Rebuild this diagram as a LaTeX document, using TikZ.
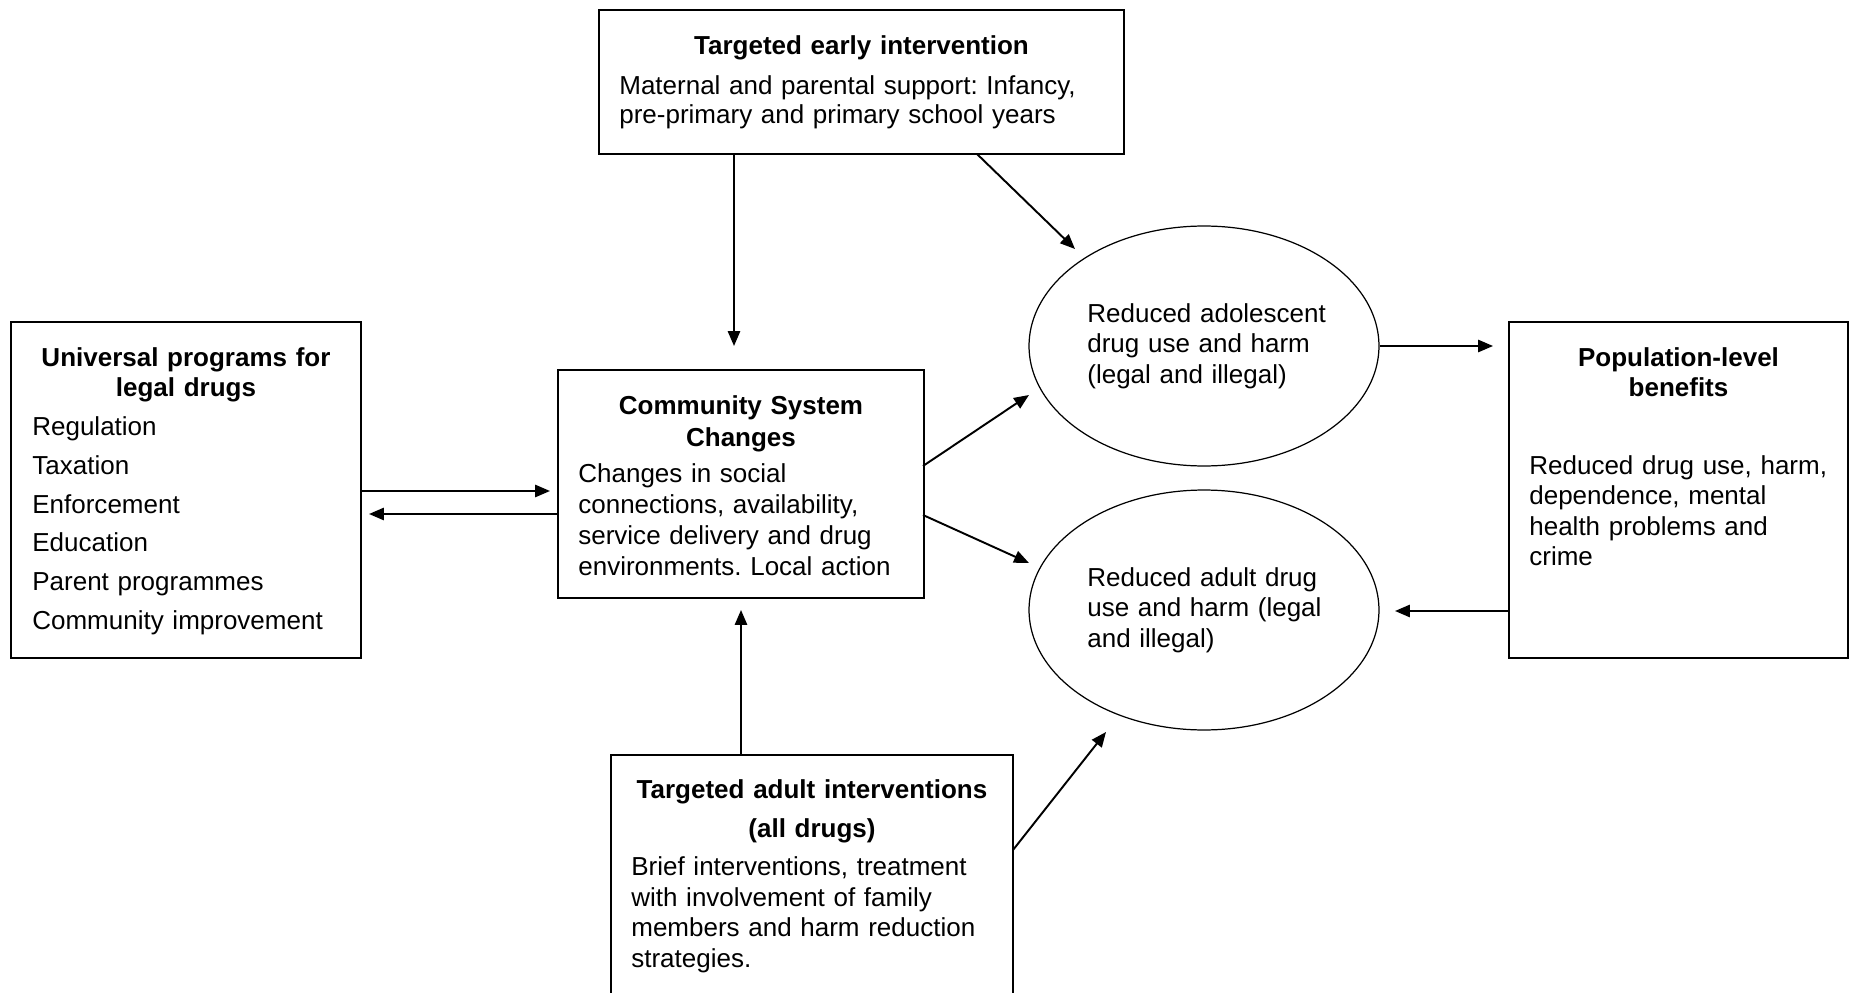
\documentclass[tikz,border=0pt]{standalone}
\usepackage{fontspec}
\setmainfont{Liberation Sans}
\frenchspacing
\usetikzlibrary{arrows.meta,shapes.geometric}
\begin{document}
\begin{tikzpicture}[x=0.02cm,y=-0.02cm,
  box/.style={draw,line width=1.1pt,inner sep=0,rectangle},
  oval/.style={draw,line width=0.7pt,ellipse,inner sep=0,minimum width=7cm,minimum height=4.8cm},
  arr/.style={line width=1.1pt,-{Triangle[length=8.5pt,width=7pt]}},
  body/.style={inner sep=0,anchor=base west,align=left,text width=14cm,font=\fontsize{14.8}{#1}\selectfont\frenchspacing},
  body/.default=17.4pt,
  ttl/.style={inner sep=0,anchor=base,align=center,text width=14cm,font=\fontsize{14.8}{#1}\selectfont\bfseries},
  ttl/.default=17.6pt]
\useasboundingbox (0,0) rectangle (1850,993);
\clip (0,0) rectangle (1850,993);
% boxes
\node[box,minimum width=10.5cm,minimum height=2.88cm] (early) at (861.5,82) {};
\node[box,minimum width=7cm,minimum height=6.72cm] (univ) at (186,490) {};
\node[box,minimum width=7.32cm,minimum height=4.56cm] (comm) at (741,484) {};
\node[box,minimum width=6.78cm,minimum height=6.72cm] (pop) at (1678.5,490) {};
\node[box,minimum width=8.04cm,minimum height=5cm] (adult) at (812,880) {};
\node[oval] (ado) at (1204,346) {};
\node[oval] (adu) at (1204,610) {};
% texts
\node[ttl] (earlyT) at (861.5,55) {Targeted early intervention};
\node[body=16.7pt] (earlyB) at (619,94.5) {Maternal and parental support: Infancy,\\pre-primary and primary school years};
\node[ttl] (univT) at (186,366) {Universal programs for\\legal drugs};
\node[body=22.1pt] (univB) at (32,435.5) {Regulation\\Taxation\\Enforcement\\Education\\Parent programmes\\Community improvement};
\node[ttl=18.1pt] (commT) at (741,414.5) {Community System\\Changes};
\node[body=17.6pt] (commB) at (578,482.5) {Changes in social\\connections, availability,\\service delivery and drug\\environments. Local action};
\node[ttl] (popT) at (1678.5,366) {Population-level\\benefits};
\node[body] (popB) at (1529,474) {Reduced drug use, harm,\\dependence, mental\\health problems and\\crime};
\node[ttl=22.1pt] (adultT) at (812,798.5) {Targeted adult interventions\\(all drugs)};
\node[body] (adultB) at (631,875.5) {Brief interventions, treatment\\with involvement of family\\members and harm reduction\\strategies.};
\node[body=17.3pt] (adoT) at (1087,322.5) {Reduced adolescent\\drug use and harm\\(legal and illegal)};
\node[body=17.3pt] (aduT) at (1087,586.5) {Reduced adult drug\\use and harm (legal\\and illegal)};
% connector end points
\coordinate (c1) at (734,346);
\coordinate (c2s) at (977,154);
\coordinate (c2) at (1075,249);
\coordinate (c3) at (1029,395);
\coordinate (c3s) at (923,466);
\coordinate (c4) at (1029,563);
\coordinate (c4s) at (923,515);
\coordinate (c5) at (741,610);
\coordinate (c6s) at (1013,850);
\coordinate (c6) at (1106,732);
\coordinate (c7) at (550,491);
\coordinate (c8) at (369,514);
\coordinate (c9) at (1493,346);
\coordinate (c10) at (1395,611);
% connectors
\draw[arr] (early.south -| c1) -- (c1);
\draw[arr] (c2s) -- (c2);
\draw[arr] (univ.east |- c7) -- (c7);
\draw[arr] (comm.west |- c8) -- (c8);
\draw[arr] (c3s) -- (c3);
\draw[arr] (c4s) -- (c4);
\draw[arr] (ado.east) -- (c9);
\draw[arr] (pop.west |- c10) -- (c10);
\draw[arr] (adult.north -| c5) -- (c5);
\draw[arr] (c6s) -- (c6);
\end{tikzpicture}
\end{document}
